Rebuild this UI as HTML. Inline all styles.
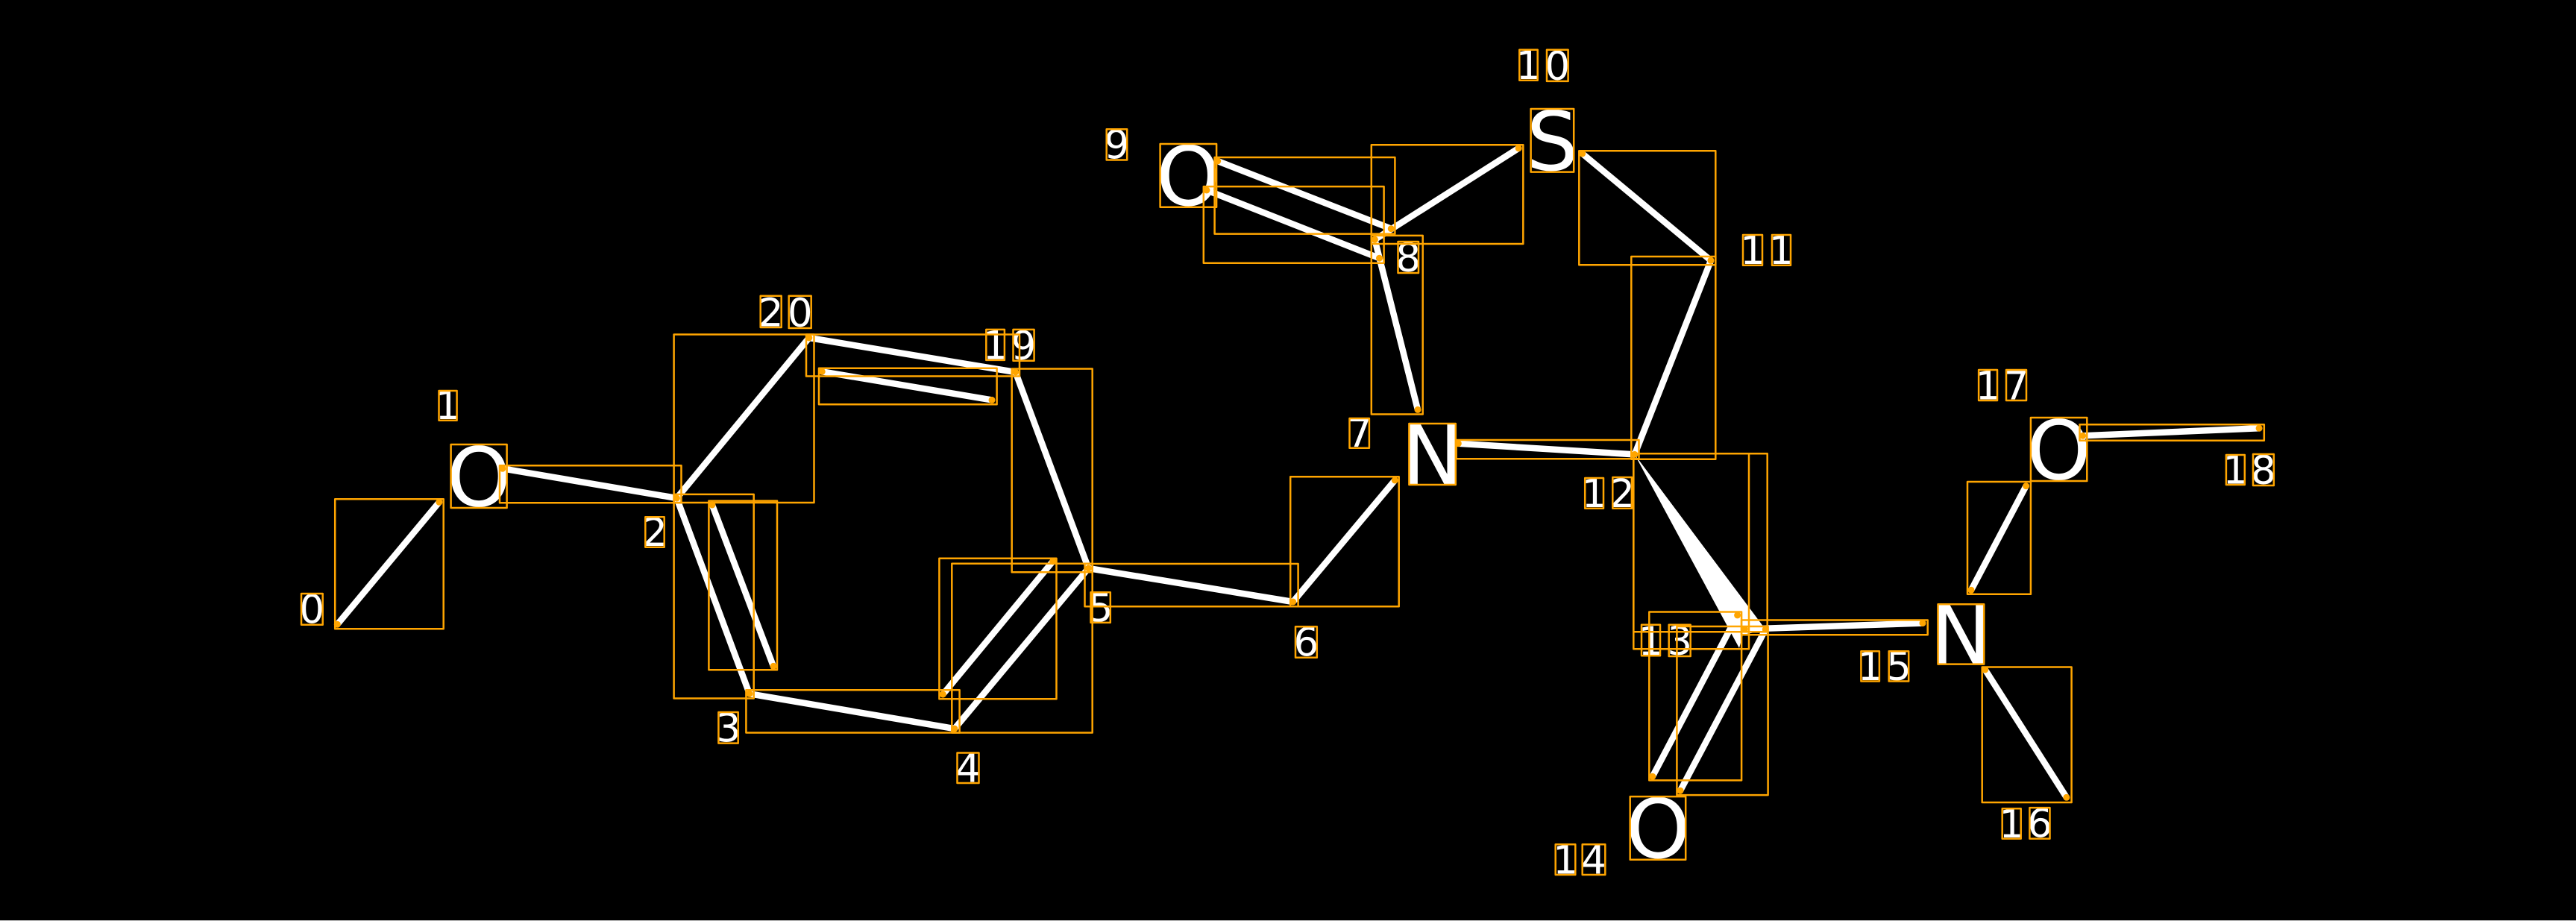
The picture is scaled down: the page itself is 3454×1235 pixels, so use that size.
<!DOCTYPE html>
<html>
<head>
<meta charset="utf-8">
<title>Molecule diagram</title>
<style>
html,body{margin:0;padding:0;background:#000;}
svg{display:block;}
.b{fill:none;stroke:#ffa500;stroke-width:2.5;stroke-linejoin:round;}
.l{stroke:#fff;stroke-width:8.5;fill:none;stroke-linecap:butt;}
.d{fill:#ffa500;}
text{font-family:"DejaVu Sans",sans-serif;fill:#fff;text-anchor:middle;}
.n{font-size:53px;}
.a{font-size:110px;}
</style>
</head>
<body>
<svg xmlns="http://www.w3.org/2000/svg" width="3454" height="1235" viewBox="0 0 3454 1235">
<rect x="0" y="0" width="3454" height="1235" fill="#000"/>
<rect x="0" y="1234" width="3454" height="1" fill="#ccc"/>

<g class="l">
<line x1="452.3" y1="837.3" x2="588.9" y2="673.3"/>
<line x1="673.8" y1="628.3" x2="907.4" y2="668"/>
<line x1="907.4" y1="668" x2="1004.9" y2="930.3"/>
<line x1="954.9" y1="677" x2="1037" y2="893.4"/>
<line x1="1004.9" y1="930.3" x2="1279.9" y2="977.1"/>
<line x1="1279.9" y1="977.1" x2="1459.4" y2="762"/>
<line x1="1264.3" y1="931.1" x2="1411.6" y2="752.8"/>
<line x1="1459.4" y1="762" x2="1733.7" y2="807"/>
<line x1="1733.7" y1="807" x2="1870.3" y2="644"/>
<line x1="1843.4" y1="321.3" x2="1901" y2="549.4"/>
<line x1="1632.7" y1="216" x2="1865.3" y2="306.7"/>
<line x1="1617.9" y1="255" x2="1849.5" y2="346.2"/>
<line x1="1843.4" y1="321.3" x2="2036.2" y2="198.8"/>
<line x1="2121.7" y1="206" x2="2294" y2="349.3"/>
<line x1="2294" y1="349.3" x2="2191.8" y2="609.4"/>
<line x1="1955.3" y1="594.7" x2="2191.8" y2="609.4"/>
<line x1="2215.8" y1="1041.2" x2="2329.6" y2="824.9"/>
<line x1="2253" y1="1060.2" x2="2367.3" y2="843.9"/>
<line x1="2339.3" y1="843.6" x2="2578" y2="835.6"/>
<line x1="2661.7" y1="898" x2="2770.9" y2="1069.3"/>
<line x1="2643" y1="791.3" x2="2716.6" y2="651.7"/>
<line x1="2792.7" y1="584.3" x2="3029.1" y2="574.3"/>
<line x1="1361.6" y1="499" x2="1459.4" y2="762"/>
<line x1="1084.8" y1="453" x2="1361.6" y2="499"/>
<line x1="1102.2" y1="498.3" x2="1330" y2="536.4"/>
<line x1="907.4" y1="668" x2="1084.8" y2="453"/>
</g>
<polygon points="2191.8,609.4 2368,845 2337,851 2332,869" fill="#fff"/>

<text class="a" x="642" y="678.5">O</text>
<text class="a" x="1593.3" y="275.2">O</text>
<text class="a" x="2081.4" y="228.1">S</text>
<text class="a" x="1920.6" y="649">N</text>
<text class="a" x="2223" y="1150.2">O</text>
<text class="a" x="2629.4" y="889.6">N</text>
<text class="a" x="2760.6" y="642.5">O</text>

<text class="n" x="418.3" y="835.7">0</text>
<text class="n" x="600.5" y="562.2">1</text>
<text class="n" x="878" y="732.2">2</text>
<text class="n" x="976.5" y="994.6">3</text>
<text class="n" x="1298" y="1048.5">4</text>
<text class="n" x="1475.6" y="833.4">5</text>
<text class="n" x="1751.4" y="879.7">6</text>
<text class="n" x="1822.7" y="599.2">7</text>
<text class="n" x="1888.2" y="364">8</text>
<text class="n" x="1497.4" y="212.5">9</text>
<text class="n" x="2049.5" y="106.2">1</text>
<text class="n" x="2088.3" y="106.9">0</text>
<text class="n" x="2350" y="354.2">1</text>
<text class="n" x="2388.5" y="354.2">1</text>
<text class="n" x="2137.6" y="680.2">1</text>
<text class="n" x="2175.1" y="680.2">2</text>
<text class="n" x="2213.5" y="877.8">1</text>
<text class="n" x="2252.2" y="878">3</text>
<text class="n" x="2099" y="1171.5">1</text>
<text class="n" x="2137" y="1171.5">4</text>
<text class="n" x="2507.6" y="912">1</text>
<text class="n" x="2546" y="912">5</text>
<text class="n" x="2697.2" y="1123.1">1</text>
<text class="n" x="2735" y="1122.6">6</text>
<text class="n" x="2665.5" y="535.5">1</text>
<text class="n" x="2703.5" y="535.5">7</text>
<text class="n" x="2997.3" y="648.5">1</text>
<text class="n" x="3034.9" y="649">8</text>
<text class="n" x="1334.6" y="481.4">1</text>
<text class="n" x="1372.5" y="481.8">9</text>
<text class="n" x="1033.7" y="437.5">2</text>
<text class="n" x="1072.7" y="438">0</text>

<g class="b">
<rect x="449.2" y="669.3" width="145.5" height="174"/>
<rect x="670" y="624.3" width="243.5" height="50"/>
<rect x="903.6" y="448.5" width="187.9" height="225.5"/>
<rect x="903.6" y="662.9" width="107.1" height="273.6"/>
<rect x="950.4" y="671.6" width="91.6" height="226.7"/>
<rect x="1081" y="448.5" width="286" height="56"/>
<rect x="1098" y="493.7" width="238.6" height="48.5"/>
<rect x="1356.7" y="494.5" width="108" height="272.8"/>
<rect x="1276.3" y="755.7" width="188.4" height="226.8"/>
<rect x="1259.4" y="748.7" width="157.1" height="188.6"/>
<rect x="1000.4" y="925.3" width="286.2" height="57.2"/>
<rect x="1454.5" y="756" width="286.1" height="57.3"/>
<rect x="1730.2" y="639.3" width="145.5" height="174"/>
<rect x="1838.8" y="315.9" width="68.9" height="239.6"/>
<rect x="1628.6" y="211" width="241.8" height="102.6"/>
<rect x="1613.8" y="250.1" width="241.8" height="102.6"/>
<rect x="1838.8" y="194.2" width="203.5" height="132.8"/>
<rect x="2117.3" y="202.3" width="183" height="153"/>
<rect x="2187.3" y="344" width="113" height="271.8"/>
<rect x="1952.6" y="590" width="244.9" height="25.3"/>
<rect x="2190.3" y="608.2" width="154.7" height="262.1"/>
<rect x="2190.3" y="608.2" width="179.4" height="239.1"/>
<rect x="2211.3" y="820.5" width="123.8" height="225.9"/>
<rect x="2248.4" y="840" width="122.2" height="226.1"/>
<rect x="2335" y="831.5" width="249.7" height="19.7"/>
<rect x="2657.7" y="894.5" width="119.9" height="181.5"/>
<rect x="2638" y="646" width="84.9" height="150.7"/>
<rect x="2788.5" y="569.3" width="247.3" height="21.4"/>

<rect x="604.6" y="596" width="75" height="85"/>
<rect x="1555.6" y="193" width="75.5" height="84.7"/>
<rect x="2052.6" y="146" width="57.6" height="84.6"/>
<rect x="1889.4" y="568" width="62.4" height="82"/>
<rect x="2185.7" y="1068.1" width="74.5" height="84.6"/>
<rect x="2598.5" y="810.3" width="61.7" height="80.3"/>
<rect x="2722.9" y="560" width="75.4" height="85"/>

<rect x="404" y="796" width="28.7" height="41.7"/>
<rect x="588.5" y="524" width="24.1" height="39.7"/>
<rect x="865.3" y="693.3" width="25.4" height="40.4"/>
<rect x="963.4" y="955" width="26.3" height="41.6"/>
<rect x="1283.5" y="1009.5" width="29" height="40.5"/>
<rect x="1462.5" y="794.3" width="26.3" height="40.6"/>
<rect x="1737" y="840.3" width="28.8" height="41.4"/>
<rect x="1809.5" y="561" width="26.4" height="39.7"/>
<rect x="1874.5" y="324" width="27.5" height="42"/>
<rect x="1483.7" y="173.2" width="27.5" height="41.3"/>
<rect x="2037.3" y="66.8" width="24.4" height="40.9"/>
<rect x="2074" y="66.8" width="28.6" height="42.1"/>
<rect x="2337" y="315" width="26" height="40.7"/>
<rect x="2376" y="315" width="25" height="40.7"/>
<rect x="2125.2" y="641" width="24.8" height="40.7"/>
<rect x="2162.3" y="640" width="25.6" height="41.7"/>
<rect x="2201" y="837.7" width="25" height="41.6"/>
<rect x="2237.7" y="837.7" width="29" height="42.3"/>
<rect x="2085.7" y="1132.3" width="26.6" height="40.7"/>
<rect x="2121.7" y="1132.3" width="30.6" height="40.7"/>
<rect x="2495.4" y="873.2" width="24.5" height="40.3"/>
<rect x="2532.7" y="873.2" width="26.5" height="40.3"/>
<rect x="2684.7" y="1084.3" width="25" height="40.3"/>
<rect x="2721.4" y="1083.1" width="27.1" height="41.5"/>
<rect x="2653.1" y="496" width="24.9" height="41"/>
<rect x="2690" y="496" width="27" height="41"/>
<rect x="2984.9" y="610" width="24.9" height="40"/>
<rect x="3021" y="609" width="27.8" height="42"/>
<rect x="1322.3" y="441.9" width="24.6" height="41"/>
<rect x="1358.5" y="441.9" width="28.1" height="41.9"/>
<rect x="1019.7" y="396.7" width="28" height="42.3"/>
<rect x="1057.7" y="396.7" width="30" height="43.3"/>
</g>

<g class="d">
<circle cx="452.3" cy="837.3" r="4.5"/>
<circle cx="588.9" cy="673.3" r="4.5"/>
<circle cx="673.8" cy="628.3" r="4.5"/>
<circle cx="907.4" cy="668" r="4.5"/>
<circle cx="954.9" cy="677" r="4.5"/>
<circle cx="1037" cy="893.4" r="4.5"/>
<circle cx="1004.9" cy="930.3" r="4.5"/>
<circle cx="1279.9" cy="977.1" r="4.5"/>
<circle cx="1264.3" cy="931.1" r="4.5"/>
<circle cx="1411.6" cy="752.8" r="4.5"/>
<circle cx="1459.4" cy="762" r="4.5"/>
<circle cx="1733.7" cy="807" r="4.5"/>
<circle cx="1870.3" cy="644" r="4.5"/>
<circle cx="1843.4" cy="321.3" r="4.5"/>
<circle cx="1901" cy="549.4" r="4.5"/>
<circle cx="1632.7" cy="216" r="4.5"/>
<circle cx="1865.3" cy="306.7" r="4.5"/>
<circle cx="1617.9" cy="255" r="4.5"/>
<circle cx="1849.5" cy="346.2" r="4.5"/>
<circle cx="2036.2" cy="198.8" r="4.5"/>
<circle cx="2121.7" cy="206" r="4.5"/>
<circle cx="2294" cy="349.3" r="4.5"/>
<circle cx="2191.8" cy="609.4" r="4.5"/>
<circle cx="1955.3" cy="594.7" r="4.5"/>
<circle cx="2215.8" cy="1041.2" r="4.5"/>
<circle cx="2329.6" cy="824.9" r="4.5"/>
<circle cx="2253" cy="1060.2" r="4.5"/>
<circle cx="2367.3" cy="843.9" r="4.5"/>
<circle cx="2339.3" cy="843.6" r="4.5"/>
<circle cx="2578" cy="835.6" r="4.5"/>
<circle cx="2661.7" cy="898" r="4.5"/>
<circle cx="2770.9" cy="1069.3" r="4.5"/>
<circle cx="2643" cy="791.3" r="4.5"/>
<circle cx="2716.6" cy="651.7" r="4.5"/>
<circle cx="2792.7" cy="584.3" r="4.5"/>
<circle cx="3029.1" cy="574.3" r="4.5"/>
<circle cx="1361.6" cy="499" r="4.5"/>
<circle cx="1084.8" cy="453" r="4.5"/>
<circle cx="1102.2" cy="498.3" r="4.5"/>
<circle cx="1330" cy="536.4" r="4.5"/>
</g>
</svg>
</body>
</html>
